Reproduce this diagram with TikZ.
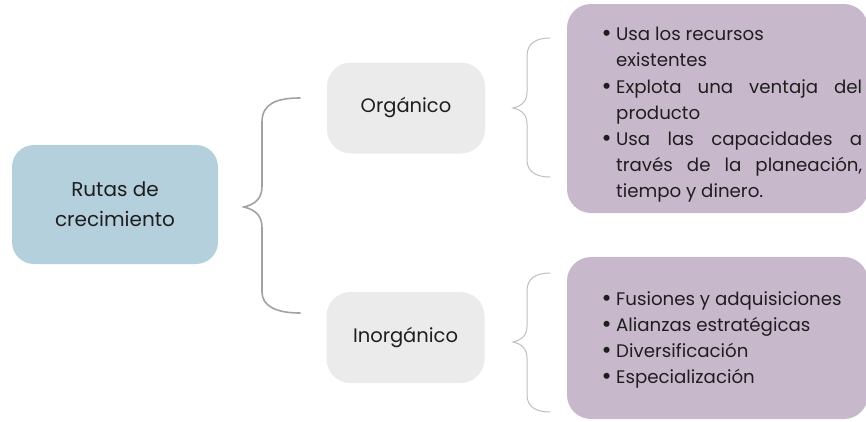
\documentclass[tikz,border=0pt]{standalone}
\usepackage{fontspec}
\setmainfont{Poppins}
\definecolor{rootblue}{HTML}{B3D0DC}
\definecolor{kindgray}{HTML}{EBEBEB}
\definecolor{listmauve}{HTML}{C8B8CC}
\definecolor{bracedark}{HTML}{A2A2A2}
\definecolor{bracelight}{HTML}{BEBEBE}
\definecolor{ink}{HTML}{1E1E1E}
% bullet, hanging indent and a justified line for the lists
\newcommand\bul{\makebox[11pt][l]{\hspace*{-3.5pt}\raisebox{-0.05em}{\scalebox{1.35}{•}}}}
\newcommand\hang{\hspace*{11pt}}
\newcommand\jline[1]{\makebox[246pt][s]{#1}}
\begin{document}
\begin{tikzpicture}[x=1pt,y=-1pt,
  box/.style={inner sep=0pt, text=ink, align=center},
  rootbox/.style={box, fill=rootblue, rounded corners=22pt,
    minimum width=206pt, minimum height=119pt,
    font=\fontsize{20}{30}\selectfont},
  kindbox/.style={box, fill=kindgray, rounded corners=24pt,
    minimum width=158pt, minimum height=91pt,
    font=\fontsize{19.5}{22}\selectfont},
  listbox/.style={inner sep=0pt, fill=listmauve, rounded corners=24pt,
    minimum width=301pt},
  listtext/.style={inner sep=0pt, text=ink, align=left, anchor=west,
    font=\fontsize{18.2}{26.2}\selectfont},
  bigbrace/.style={draw=bracedark, line width=1.6pt, line cap=round},
  smallbrace/.style={draw=bracelight, line width=1pt, line cap=round}]
\useasboundingbox (0,0) rectangle (866,421);

% boxes
\node[rootbox] (root) at (115,204.5) {Rutas de\\crecimiento};
\node[kindbox] (org) at (406,108) {Orgánico};
\node[kindbox] (inorg) at (405.5,337.5) {Inorgánico};
\node[listbox, minimum height=209pt] (listA) at (717.5,108.5) {};
\node[listbox, minimum height=162pt] (listB) at (717.5,338) {};

% list contents
\node[listtext] (textA) at (605,115) {%
  \bul Usa los recursos\\
  \hang existentes\\
  \bul\jline{Explota una ventaja del}\\
  \hang producto\\
  \bul\jline{Usa las capacidades a}\\
  \hang\jline{través de la planeación,}\\
  \hang tiempo y dinero.};
\node[listtext] (textB) at (605,340) {%
  \bul Fusiones y adquisiciones\\
  \bul Alianzas estratégicas\\
  \bul Diversificación\\
  \bul Especialización};

% brace from the root to both kinds
\coordinate (b0) at (244,207);
\coordinate (b1) at (300,98);
\coordinate (b2) at (300,313);
\draw[bigbrace] (b1) .. controls (276,98) and (262,104) .. (262,122)
  -- (262,186) .. controls (262,198) and (256,204) .. (b0)
  .. controls (256,210) and (262,216) .. (262,228)
  -- (262,292) .. controls (262,306) and (276,313) .. (b2);

% braces from each kind to its list
\coordinate (a0) at (513,108);
\coordinate (a1) at (550,38);
\coordinate (a2) at (550,177);
\draw[smallbrace] (a1) .. controls (535,38) and (527,44) .. (527,56)
  -- (527,92) .. controls (527,101) and (522,106) .. (a0)
  .. controls (522,110) and (527,115) .. (527,124)
  -- (527,160) .. controls (527,171) and (535,177) .. (a2);

\coordinate (c0) at (513,342);
\coordinate (c1) at (550,273);
\coordinate (c2) at (550,412);
\draw[smallbrace] (c1) .. controls (535,273) and (527,279) .. (527,291)
  -- (527,326) .. controls (527,335) and (522,340) .. (c0)
  .. controls (522,344) and (527,349) .. (527,358)
  -- (527,395) .. controls (527,406) and (535,412) .. (c2);
\end{tikzpicture}
\end{document}
